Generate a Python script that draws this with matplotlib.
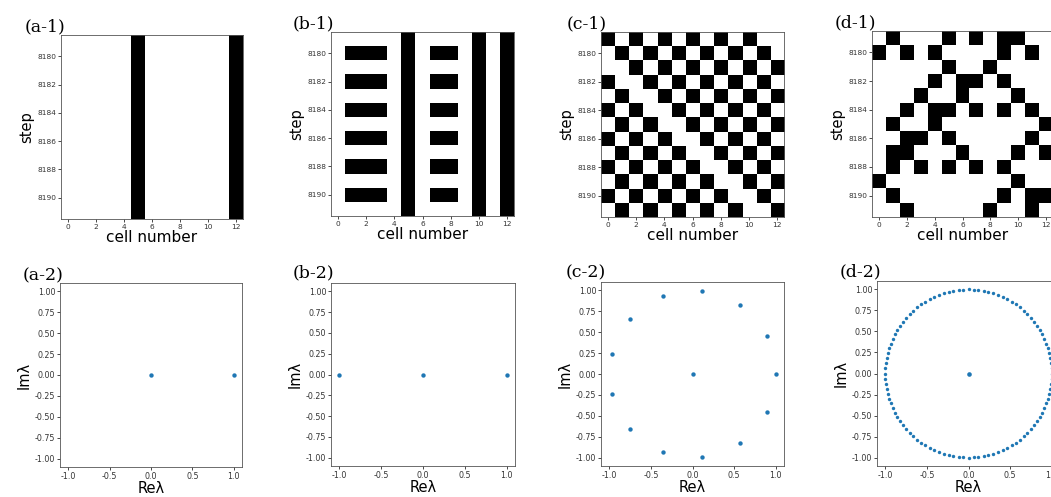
import matplotlib
matplotlib.use("Agg")
import matplotlib.pyplot as plt
import numpy as np

# --- data ----------------------------------------------------------------
cells = list(range(13))
steps = list(range(8179, 8192))

# 1 = black cell, one string per step (8179 ... 8191)
a1_rows = ["0000010000001"] * 13
b1_rows = ["0000010000101", "0111010110101"] * 6 + ["0000010000101"]
c1_rows = ["1010101010100", "0101010101010", "0010101010101", "1001010101010",
           "0100101010101", "1010010101010", "0101001010101", "1010100101010",
           "0101010010101", "1010101001010", "0101010100101", "1010101010010",
           "0101010101001"]
d1_rows = ["0100010101100", "1010100001010", "0000010010000", "0000101101000",
           "0001001000100", "0010110101010", "0100100000001", "0011010000010",
           "0110001000101", "0101010101000", "1000000000100", "0100000001011",
           "0010000010010"]

# eigenvalues (Re, Im)
a2_re = [0.0, 1.0]
a2_im = [0.0, 0.0]
b2_re = [-1.0, 0.0, 1.0]
b2_im = [0.0, 0.0, 0.0]
c2_re = [0.0, 1.0, 0.89, 0.57, 0.12, -0.36, -0.75, -0.97, -0.97, -0.75, -0.36, 0.12, 0.57, 0.89]
c2_im = [0.0, 0.0, 0.46, 0.82, 0.99, 0.93, 0.66, 0.24, -0.24, -0.66, -0.93, -0.99, -0.82, -0.46]
d2_center_re = [0.0]
d2_center_im = [0.0]
# ring of eigenvalues on the unit circle, angle in degrees
d2_ring_deg = [
    0.0, 3.5, 6.9, 10.4, 13.8, 17.3, 20.8, 24.2, 27.7, 31.2, 34.6, 38.1, 41.5,
    45.0, 48.5, 51.9, 55.4, 58.8, 62.3, 65.8, 69.2, 72.7, 76.2, 79.6, 83.1, 86.5,
    90.0, 93.5, 96.9, 100.4, 103.8, 107.3, 110.8, 114.2, 117.7, 121.2, 124.6, 128.1, 131.5,
    135.0, 138.5, 141.9, 145.4, 148.8, 152.3, 155.8, 159.2, 162.7, 166.2, 169.6, 173.1, 176.5,
    180.0, 183.5, 186.9, 190.4, 193.8, 197.3, 200.8, 204.2, 207.7, 211.2, 214.6, 218.1, 221.5,
    225.0, 228.5, 231.9, 235.4, 238.8, 242.3, 245.8, 249.2, 252.7, 256.2, 259.6, 263.1, 266.5,
    270.0, 273.5, 276.9, 280.4, 283.8, 287.3, 290.8, 294.2, 297.7, 301.2, 304.6, 308.1, 311.5,
    315.0, 318.5, 321.9, 325.4, 328.8, 332.3, 335.8, 339.2, 342.7, 346.2, 349.6, 353.1, 356.5]

W, H = 1051, 497
fig = plt.figure(figsize=(W / 100, H / 100), dpi=100)


def box(left, top, right, bottom):
    # pixel box -> figure fraction
    return [left / W, 1 - bottom / H, (right - left) / W, (bottom - top) / H]


def grid_panel(pos, rows, label, lab_xy):
    ax = fig.add_axes(box(*pos))
    img = np.array([[int(ch) for ch in r] for r in rows])
    ax.imshow(img, cmap="binary", interpolation="nearest", aspect="auto",
              extent=(cells[0] - 0.5, cells[-1] + 0.5, steps[-1] + 0.5, steps[0] - 0.5))
    ax.set_xticks(range(0, 13, 2))
    ax.set_yticks(range(8180, 8191, 2))
    ax.tick_params(labelsize=5.3, length=2, width=0.5, pad=1.5, labelcolor="#333333")
    ax.set_xlabel("cell number", fontsize=11, labelpad=0)
    ax.set_ylabel("step", fontsize=10.5, labelpad=2)
    for s in ax.spines.values():
        s.set_linewidth(0.6)
        s.set_color("#555555")
    fig.text(lab_xy[0] / W, 1 - lab_xy[1] / H, label, family="DejaVu Serif", fontsize=12.5)
    return ax


def eig_panel(pos, re, im, label, lab_xy, s=10):
    ax = fig.add_axes(box(*pos))
    ax.scatter(re, im, s=s, color="#1f77b4", linewidths=0)
    ax.set_xlim(-1.1, 1.1)
    ax.set_ylim(-1.1, 1.1)
    ax.set_xticks([-1.0, -0.5, 0.0, 0.5, 1.0])
    ax.set_yticks([-1.0, -0.75, -0.5, -0.25, 0.0, 0.25, 0.5, 0.75, 1.0])
    ax.xaxis.set_major_formatter(matplotlib.ticker.FormatStrFormatter("%.1f"))
    ax.yaxis.set_major_formatter(matplotlib.ticker.FormatStrFormatter("%.2f"))
    ax.tick_params(labelsize=5.7, length=2, width=0.5, pad=1.5, labelcolor="#333333")
    ax.set_xlabel("Reλ", fontsize=10.5, labelpad=0)
    ax.set_ylabel("Imλ", fontsize=10.5, labelpad=2)
    for sp in ax.spines.values():
        sp.set_linewidth(0.6)
        sp.set_color("#555555")
    fig.text(lab_xy[0] / W, 1 - lab_xy[1] / H, label, family="DejaVu Serif", fontsize=12.5)
    return ax


grid_panel((61, 35, 243, 219), a1_rows, "(a-1)", (25, 31))
grid_panel((331, 32, 514, 216), b1_rows, "(b-1)", (293, 28))
grid_panel((601, 32, 784, 217), c1_rows, "(c-1)", (567, 28))
grid_panel((872, 31, 1053, 217), d1_rows, "(d-1)", (835, 27))

eig_panel((60, 283, 242, 467), a2_re, a2_im, "(a-2)", (23, 280))
eig_panel((331, 283, 515, 466), b2_re, b2_im, "(b-2)", (293, 277))
eig_panel((601, 282, 784, 466), c2_re, c2_im, "(c-2)", (566, 277))
ang = np.deg2rad(d2_ring_deg)
ax = eig_panel((877, 281, 1060, 466), np.cos(ang), np.sin(ang), "(d-2)", (840, 276), s=6)
ax.scatter(d2_center_re, d2_center_im, s=11, color="#1f77b4", linewidths=0)

fig.savefig("out.png", dpi=100)
